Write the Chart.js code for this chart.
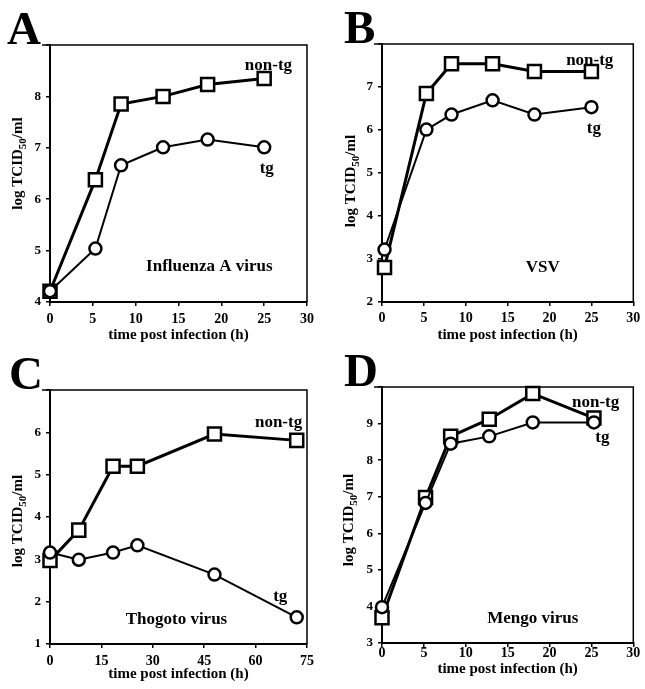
<!DOCTYPE html>
<html>
<head>
<meta charset="utf-8">
<script src="https://cdn.jsdelivr.net/npm/chart.js@4.4.1/dist/chart.umd.min.js"></script>
<style>
  body { margin: 0; background: #fff; }
  .panel { position: absolute; }
</style>
</head>
<body>
<div class="panel" style="left:0px;top:0px"><canvas id="chartA" width="322" height="345"></canvas></div>
<div class="panel" style="left:322px;top:0px"><canvas id="chartB" width="323" height="345"></canvas></div>
<div class="panel" style="left:0px;top:345px"><canvas id="chartC" width="322" height="344"></canvas></div>
<div class="panel" style="left:322px;top:345px"><canvas id="chartD" width="323" height="344"></canvas></div>

<script>
// A - Influenza A virus
const hoursA = [0, 5.3, 8.3, 13.2, 18.4, 25];
const nonTgA = [4.21, 6.38, 7.85, 8.0, 8.23, 8.35];
const tgA    = [4.21, 5.04, 6.66, 7.01, 7.16, 7.01];

// B - VSV
const hoursB = [0.3, 5.3, 8.3, 13.2, 18.2, 25];
const nonTgB = [2.8, 6.85, 7.54, 7.54, 7.36, 7.36];
const tgB    = [3.22, 6.01, 6.36, 6.69, 6.36, 6.53];

// C - Thogoto virus
const hoursC = [0, 8.4, 18.4, 25.5, 48, 72];
const nonTgC = [2.97, 3.69, 5.2, 5.2, 5.96, 5.81];
const tgC    = [3.16, 2.99, 3.16, 3.33, 2.64, 1.63];

// D - Mengo virus
const hoursD = [0, 5.2, 8.2, 12.8, 18, 25.3];
const nonTgD = [3.69, 6.98, 8.65, 9.12, 9.82, 9.15];
const tgD    = [3.98, 6.83, 8.45, 8.65, 9.03, 9.03];

// axis ranges [min, max, step]
const xAxisA = [0, 30, 5];
const xAxisB = [0, 30, 5];
const xAxisC = [0, 75, 15];
const xAxisD = [0, 30, 5];
const yAxisA = [4, 9, 1];
const yAxisB = [2, 8, 1];
const yAxisC = [1, 7, 1];
const yAxisD = [3, 10, 1];

const seriesNames = ['non-tg', 'tg'];
const virusNames = ['Influenza A virus', 'VSV', 'Thogoto virus', 'Mengo virus'];
const panelLetters = ['A', 'B', 'C', 'D'];
const xTitle = 'time post infection (h)';

const SERIF = '"Liberation Serif", "Times New Roman", serif';

// frame, panel letter, series labels and y title
const panelDecor = {
    id: 'panelDecor',
    afterDraw: function(chart, args, opts) {
        var ctx = chart.ctx;
        var area = chart.chartArea;
        var xs = chart.scales.x, ys = chart.scales.y;
        ctx.save();

        // thin top / right frame
        ctx.strokeStyle = '#000';
        ctx.lineWidth = 1.5;
        ctx.beginPath();
        ctx.moveTo(area.left - 8, area.top);
        ctx.lineTo(area.right, area.top);
        ctx.lineTo(area.right, area.bottom);
        ctx.stroke();

        // big panel letter
        ctx.fillStyle = '#000';
        ctx.font = 'bold 47px ' + SERIF;
        ctx.textAlign = 'left';
        ctx.textBaseline = 'alphabetic';
        ctx.fillText(opts.letter, area.left + opts.letterDx, area.top - 1);

        // labels inside the plot
        ctx.font = 'bold 17px ' + SERIF;
        ctx.textAlign = 'center';
        ctx.textBaseline = 'middle';
        opts.labels.forEach(function(l) {
            ctx.fillText(l.text, xs.getPixelForValue(l.x), ys.getPixelForValue(l.y));
        });

        // y title: log TCID50/ml with subscript
        var big = 'bold 15px ' + SERIF;
        var small = 'bold 11px ' + SERIF;
        ctx.font = big;
        var w1 = ctx.measureText('log TCID').width;
        var w3 = ctx.measureText('/ml').width;
        ctx.font = small;
        var w2 = ctx.measureText('50').width;
        ctx.translate(area.left + opts.yTitleDx, (area.top + area.bottom) / 2 + opts.yTitleDy);
        ctx.rotate(-Math.PI / 2);
        ctx.textAlign = 'left';
        ctx.textBaseline = 'alphabetic';
        var x0 = -(w1 + w2 + w3) / 2;
        ctx.font = big;
        ctx.fillText('log TCID', x0, 5);
        ctx.font = small;
        ctx.fillText('50', x0 + w1, 9);
        ctx.font = big;
        ctx.fillText('/ml', x0 + w1 + w2, 5);

        ctx.restore();
    }
};

function toPoints(xs, ys) {
    return xs.map(function(x, i) { return { x: x, y: ys[i] }; });
}

function makePanel(id, hours, nonTg, tg, xAxis, yAxis, box, decor) {
    var ctx = document.getElementById(id).getContext('2d');
    return new Chart(ctx, {
        type: 'line',
        data: {
            datasets: [
                {
                    label: seriesNames[1],
                    data: toPoints(hours, tg),
                    borderColor: '#000',
                    borderWidth: 2,
                    pointStyle: 'circle',
                    pointRadius: 6,
                    pointBorderWidth: 2.5,
                    pointBackgroundColor: '#fff',
                    pointBorderColor: '#000',
                    tension: 0,
                    clip: false
                },
                {
                    label: seriesNames[0],
                    data: toPoints(hours, nonTg),
                    borderColor: '#000',
                    borderWidth: 3,
                    pointStyle: 'rect',
                    pointRadius: 9.2,
                    pointBorderWidth: 2.5,
                    pointBackgroundColor: '#fff',
                    pointBorderColor: '#000',
                    tension: 0,
                    clip: false
                }
            ]
        },
        options: {
            responsive: false,
            animation: false,
            devicePixelRatio: 1,
            layout: { padding: { top: box.top, right: box.right, left: 0, bottom: 0 } },
            plugins: {
                legend: { display: false },
                tooltip: { enabled: false },
                panelDecor: decor
            },
            scales: {
                x: {
                    type: 'linear',
                    min: xAxis[0],
                    max: xAxis[1],
                    afterFit: function(scale) { scale.height = box.xHeight; },
                    ticks: {
                        stepSize: xAxis[2],
                        color: '#000',
                        padding: box.tickPad,
                        maxRotation: 0,
                        font: { family: SERIF, size: 14, weight: 'bold' }
                    },
                    grid: { drawOnChartArea: false, drawTicks: true, tickLength: 4, color: '#000', lineWidth: 1.5 },
                    border: { display: true, color: '#000', width: 2 },
                    title: {
                        display: true,
                        text: xTitle,
                        color: '#000',
                        font: { family: SERIF, size: 15, weight: 'bold' },
                        padding: { top: 0, bottom: box.titlePad }
                    }
                },
                y: {
                    type: 'linear',
                    min: yAxis[0],
                    max: yAxis[1],
                    afterFit: function(scale) { scale.width = box.yWidth; },
                    ticks: {
                        stepSize: yAxis[2],
                        color: '#000',
                        padding: 5,
                        font: { family: SERIF, size: 13, weight: 'bold' },
                        callback: function(v) { return v === yAxis[1] ? '' : v; }
                    },
                    grid: { drawOnChartArea: false, drawTicks: true, tickLength: 4, color: '#000', lineWidth: 1.5 },
                    border: { display: true, color: '#000', width: 2 }
                }
            }
        },
        plugins: [panelDecor]
    });
}

makePanel('chartA', hoursA, nonTgA, tgA, xAxisA, yAxisA,
    { top: 45, right: 15, yWidth: 50, xHeight: 43, titlePad: 1, tickPad: 5 },
    { letter: panelLetters[0], letterDx: -43, yTitleDx: -33, yTitleDy: -10,
      labels: [
          { text: seriesNames[0], x: 25.5, y: 8.6 },
          { text: seriesNames[1], x: 25.3, y: 6.6 },
          { text: virusNames[0], x: 18.6, y: 4.68 }
      ] });

makePanel('chartB', hoursB, nonTgB, tgB, xAxisB, yAxisB,
    { top: 44, right: 8, yWidth: 60, xHeight: 43, titlePad: 1, tickPad: 4 },
    { letter: panelLetters[1], letterDx: -38, yTitleDx: -32, yTitleDy: 8,
      labels: [
          { text: seriesNames[0], x: 24.8, y: 7.62 },
          { text: seriesNames[1], x: 25.3, y: 6.03 },
          { text: virusNames[1], x: 19.2, y: 2.81 }
      ] });

makePanel('chartC', hoursC, nonTgC, tgC, xAxisC, yAxisC,
    { top: 45, right: 15, yWidth: 50, xHeight: 45, titlePad: 6, tickPad: 5 },
    { letter: panelLetters[2], letterDx: -41, yTitleDx: -33, yTitleDy: 4,
      labels: [
          { text: seriesNames[0], x: 66.7, y: 6.24 },
          { text: seriesNames[1], x: 67.2, y: 2.11 },
          { text: virusNames[2], x: 36.9, y: 1.57 }
      ] });

makePanel('chartD', hoursD, nonTgD, tgD, xAxisD, yAxisD,
    { top: 42, right: 8, yWidth: 60, xHeight: 46, titlePad: 11, tickPad: -2 },
    { letter: panelLetters[3], letterDx: -38, yTitleDx: -34, yTitleDy: 5,
      labels: [
          { text: seriesNames[0], x: 25.5, y: 9.57 },
          { text: seriesNames[1], x: 26.3, y: 8.62 },
          { text: virusNames[3], x: 18.0, y: 3.66 }
      ] });
</script>
</body>
</html>
